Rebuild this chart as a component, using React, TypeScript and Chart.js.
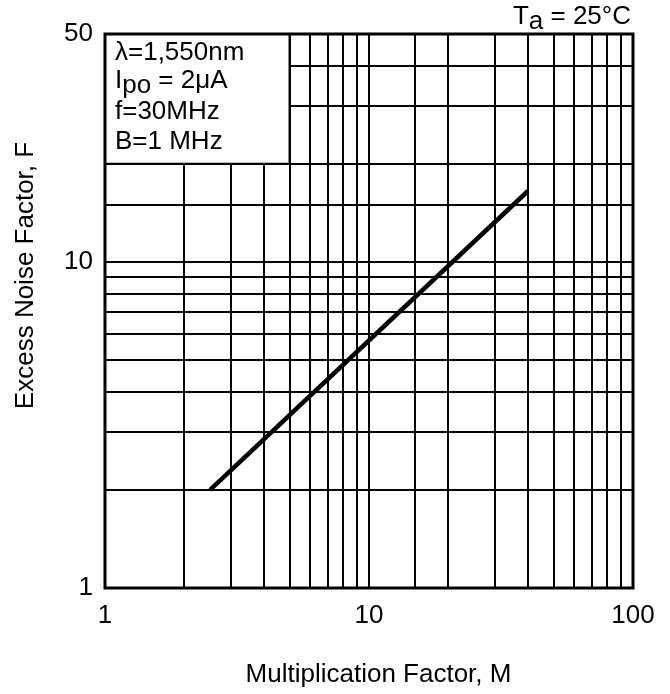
import React, { useEffect, useRef } from 'react';
import { Chart, registerables } from 'chart.js';

Chart.register(...registerables);

// ---- data ----
const multiplicationFactor = [2.5, 40];
const excessNoiseFactor = [2.0, 16.5];
const xTickLabels = [1, 10, 100];
const yTickLabels = [1, 10, 50];
const xTitle = 'Multiplication Factor, M';
const yTitle = 'Excess Noise Factor, F';
type Run = { t: string; sub?: boolean };
const conditionLines: Run[][] = [
  [{ t: 'λ=1,550nm' }],
  [{ t: 'I' }, { t: 'po', sub: true }, { t: ' = 2μA' }],
  [{ t: 'f=30MHz' }],
  [{ t: 'B=1 MHz' }],
];
const temperatureNote: Run[] = [{ t: 'T' }, { t: 'a', sub: true }, { t: ' = 25°C' }];

const FONT = '"Liberation Sans", Arial, Helvetica, sans-serif';

function runsWidth(ctx: CanvasRenderingContext2D, runs: Run[]) {
  return runs.reduce((w, r) => w + ctx.measureText(r.t).width, 0);
}
function drawRuns(ctx: CanvasRenderingContext2D, runs: Run[], x: number, y: number) {
  let cx = x;
  for (const r of runs) {
    ctx.fillText(r.t, cx, y + (r.sub ? 5 : 0));
    cx += ctx.measureText(r.t).width;
  }
}

const overlayPlugin = {
  id: 'overlay',
  beforeDatasetsDraw(chart: any) {
    const { ctx, chartArea: ca, scales } = chart;
    const x5 = scales.x.getPixelForValue(5);
    const y20 = scales.y.getPixelForValue(20);
    ctx.save();
    ctx.fillStyle = '#fff';
    ctx.fillRect(ca.left, ca.top, x5 - ca.left, y20 - ca.top);
    ctx.strokeStyle = '#000';
    ctx.lineWidth = 2;
    ctx.beginPath();
    ctx.moveTo(x5, ca.top);
    ctx.lineTo(x5, y20);
    ctx.moveTo(ca.left, y20);
    ctx.lineTo(x5, y20);
    ctx.stroke();
    ctx.fillStyle = '#000';
    ctx.font = `26px ${FONT}`;
    ctx.textAlign = 'left';
    ctx.textBaseline = 'alphabetic';
    const baselines = [26, 54, 85, 115];
    conditionLines.forEach((runs, i) => drawRuns(ctx, runs, ca.left + 10, ca.top + baselines[i]));
    ctx.restore();
  },
  afterDraw(chart: any) {
    const { ctx, chartArea: ca } = chart;
    ctx.save();
    ctx.strokeStyle = '#000';
    ctx.lineWidth = 3;
    ctx.strokeRect(ca.left, ca.top, ca.right - ca.left, ca.bottom - ca.top);

    ctx.fillStyle = '#000';
    ctx.textBaseline = 'alphabetic';
    // temperature note
    ctx.font = `26px ${FONT}`;
    ctx.textAlign = 'left';
    const w = runsWidth(ctx, temperatureNote);
    drawRuns(ctx, temperatureNote, ca.right - 2 - w, ca.top - 10);

    // x title
    ctx.font = `26px ${FONT}`;
    ctx.textAlign = 'center';
    ctx.fillText(xTitle, ca.left + 273.5, ca.bottom + 94);

    // y title
    ctx.translate(ca.left - 72, ca.top + 241.5);
    ctx.rotate(-Math.PI / 2);
    ctx.textAlign = 'center';
    ctx.fillText(yTitle, 0, 0);
    ctx.restore();
  },
};

export default function App() {
  const ref = useRef<HTMLCanvasElement | null>(null);

  useEffect(() => {
    if (!ref.current) return;
    Chart.defaults.font.family = FONT;
    Chart.defaults.color = '#000';
    const chart = new Chart(ref.current, {
      type: 'line',
      data: {
        datasets: [
          {
            data: multiplicationFactor.map((m, i) => ({ x: m, y: excessNoiseFactor[i] })),
            borderColor: '#000',
            borderWidth: 4.5,
            pointRadius: 0,
            fill: false,
            tension: 0,
            borderCapStyle: 'butt',
          },
        ],
      },
      options: {
        responsive: false,
        animation: false,
        events: [],
        layout: { padding: { top: 34, right: 37, left: 0, bottom: 0 } },
        plugins: {
          legend: { display: false },
          tooltip: { enabled: false },
          title: { display: false },
        },
        scales: {
          x: {
            type: 'logarithmic',
            min: 1,
            max: 100,
            border: { display: false },
            grid: { color: '#000', lineWidth: 2, drawTicks: false },
            ticks: {
              autoSkip: false,
              maxRotation: 0,
              padding: 12,
              font: { size: 26 },
              color: '#000',
              callback: (v: any) => (xTickLabels.includes(Number(v)) ? String(v) : ''),
            },
            afterFit: (s: any) => {
              s.height = 106;
            },
          },
          y: {
            type: 'logarithmic',
            min: 1,
            max: 50,
            border: { display: false },
            grid: { color: '#000', lineWidth: 2, drawTicks: false },
            ticks: {
              autoSkip: false,
              padding: 12,
              font: { size: 26 },
              color: '#000',
              callback: (v: any) => (yTickLabels.includes(Number(v)) ? String(v) : ''),
            },
            afterFit: (s: any) => {
              s.width = 105;
            },
          },
        },
      },
      plugins: [overlayPlugin],
    } as any);
    return () => chart.destroy();
  }, []);

  return (
    <div style={{ position: 'absolute', left: 0, top: 0, width: 670, height: 694, background: '#fff' }}>
      <canvas ref={ref} width={670} height={694} style={{ width: 670, height: 694, display: 'block' }} />
    </div>
  );
}
